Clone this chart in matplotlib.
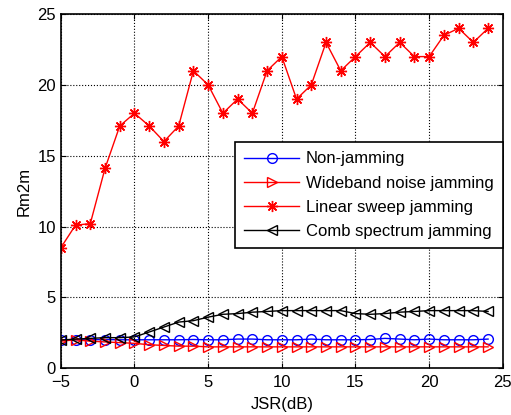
import numpy as np
import matplotlib
matplotlib.use("Agg")
import matplotlib.pyplot as plt

plt.rcParams['font.family'] = ['Liberation Sans', 'DejaVu Sans']

# JSR values (dB)
jsr = list(range(-5, 25))

non_jamming = [1.98, 2.0, 2.0, 2.02, 2.0, 2.0, 2.0, 2.0, 2.0, 2.02, 2.0, 2.0, 2.05, 2.05,
               2.0, 2.0, 2.0, 2.05, 2.0, 2.0, 2.0, 2.02, 2.1, 2.05, 2.0, 2.05, 2.0, 2.0, 2.0, 2.05]
wideband = [1.9, 2.0, 1.9, 1.85, 1.8, 1.75, 1.65, 1.6, 1.55, 1.55, 1.5, 1.5, 1.5, 1.5,
            1.5, 1.5, 1.5, 1.5, 1.5, 1.5, 1.5, 1.5, 1.5, 1.5, 1.5, 1.5, 1.5, 1.5, 1.5, 1.5]
linear_sweep = [8.5, 10.1, 10.2, 14.1, 17.1, 18.0, 17.1, 16.0, 17.1, 21.0, 20.0, 18.0, 19.0, 18.0,
                21.0, 22.0, 19.0, 20.0, 23.0, 21.0, 22.0, 23.0, 22.0, 23.0, 22.0, 22.0, 23.5, 24.0,
                23.0, 24.0]
comb = [1.98, 2.05, 2.1, 2.15, 2.15, 2.2, 2.55, 2.9, 3.25, 3.35, 3.6, 3.8, 3.85, 3.95,
        4.0, 4.06, 4.06, 4.06, 4.06, 4.06, 3.85, 3.8, 3.85, 3.95, 4.0, 4.06, 4.06, 4.06, 4.06, 4.0]

fig = plt.figure(figsize=(5.11, 4.15), dpi=100)
ax = fig.add_axes([0.119, 0.113, 0.865, 0.853])

ax.plot(jsr, non_jamming, color='blue', marker='o', ms=7, mfc='none', lw=1,
        label='Non-jamming')
ax.plot(jsr, wideband, color='red', marker='>', ms=7, mfc='none', lw=1,
        label='Wideband noise jamming')
ax.plot(jsr, linear_sweep, color='red', marker=(8, 2, 0), ms=8, lw=1,
        label='Linear sweep jamming')
ax.plot(jsr, comb, color='black', marker='<', ms=7, mfc='none', lw=1,
        label='Comb spectrum jamming')

ax.set_xlim(-5, 25)
ax.set_ylim(0, 25)
ax.set_xticks(range(-5, 26, 5))
ax.set_yticks(range(0, 26, 5))
ax.grid(True, color='black', linestyle=':', linewidth=0.8)
ax.tick_params(direction='in', labelsize=12, top=True, right=True)
ax.tick_params(axis='x', pad=5)
for s in ax.spines.values():
    s.set_linewidth(1.2)

ax.set_xlabel('JSR(dB)', fontsize=12, labelpad=5)
ax.set_ylabel('Rm2m', fontsize=12, labelpad=4)

leg = ax.legend(loc='upper right', bbox_to_anchor=(1.0, 0.638), borderaxespad=0,
                fontsize=12, fancybox=False, framealpha=1, edgecolor='black',
                numpoints=1, handlelength=3.3, handletextpad=0.4,
                borderpad=0.55, labelspacing=0.55)
leg.get_frame().set_linewidth(1.2)

fig.savefig('out.png', dpi=100)
